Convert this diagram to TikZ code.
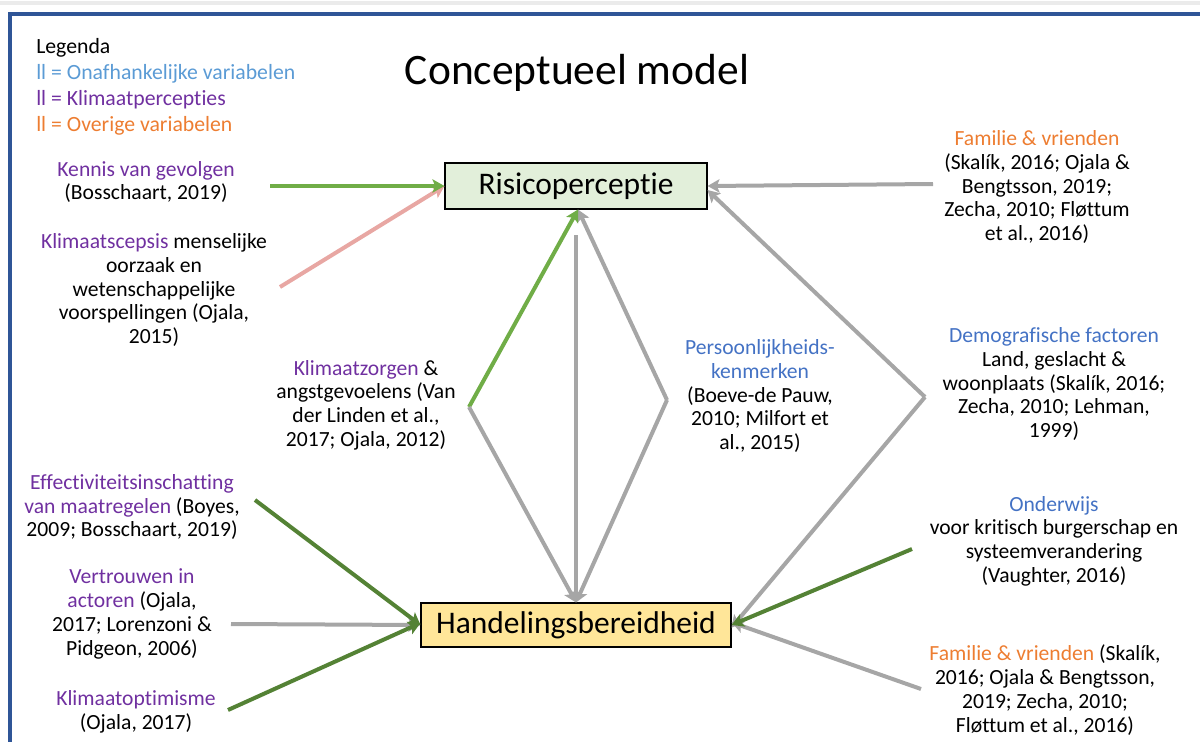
\documentclass[tikz,border=0pt]{standalone}
\usepackage{fontspec}
\setmainfont{Carlito}[Ligatures=NoCommon]
\usetikzlibrary{arrows.meta}

\definecolor{frameblue}{HTML}{2F5597}
\definecolor{legblue}{HTML}{5B9BD5}
\definecolor{varblue}{HTML}{4472C4}
\definecolor{klimpurple}{HTML}{7030A0}
\definecolor{restorange}{HTML}{ED7D31}
\definecolor{lightgreen}{HTML}{70AD47}
\definecolor{darkgreen}{HTML}{548235}
\definecolor{scepsispink}{HTML}{E8A7A3}
\definecolor{arrowgrey}{HTML}{A6A6A6}
\definecolor{risicofill}{HTML}{E2EFDA}
\definecolor{handelfill}{HTML}{FFE699}

\begin{document}
\begin{tikzpicture}[x=0.75pt, y=-0.75pt,
    txt/.style={align=center, font=\fontsize{16.2}{17.8}\selectfont},
    mainbox/.style={draw, line width=0.8pt, inner sep=0pt, font=\fontsize{23.6}{27}\selectfont},
    arr/.style={line width=3pt, -{Stealth[length=9pt, width=10pt, inset=2pt]}}]
    \useasboundingbox (0,0) rectangle (1200,742);

    % frame
    \draw[black!8, line width=3pt] (0,3) -- (1200,3);
    \draw[frameblue, line width=3pt] (10,742) -- (10,14) -- (1200,14);

    % title and legend
    \node (title) at (577,73) {\fontsize{32.6}{38}\selectfont Conceptueel model};
    \node[anchor=north west, inner sep=0pt, align=left, font=\fontsize{16.3}{19.5}\selectfont] (legend) at (36,38)
        {Legenda\\
         {\color{legblue}ll = Onafhankelijke variabelen}\\
         {\color{klimpurple}ll = Klimaatpercepties}\\
         {\color{restorange}ll = Overige variabelen}};

    % the two main boxes
    \node[mainbox, fill=risicofill, minimum width=196.5pt, minimum height=34.5pt] (risico) at (576,186) {Risicoperceptie};
    \node[mainbox, fill=handelfill, minimum width=232.5pt, minimum height=33pt] (handel) at (576,625) {Handelingsbereidheid};

    % left side
    \node[txt] (kennis) at (146,182) {{\color{klimpurple}Kennis van gevolgen}\\(Bosschaart, 2019)};
    \node[txt] (scepsis) at (154,290) {{\color{klimpurple}Klimaatscepsis} menselijke\\oorzaak en\\wetenschappelijke\\voorspellingen (Ojala,\\2015)};
    \node[txt] (zorgen) at (366,405) {{\color{klimpurple}Klimaatzorgen} \&\\angstgevoelens (Van\\der Linden et al.,\\2017; Ojala, 2012)};
    \node[txt] (effect) at (132,507) {{\color{klimpurple}Effectiviteitsinschatting}\\{\color{klimpurple}van maatregelen} (Boyes,\\2009; Bosschaart, 2019)};
    \node[txt] (vertrouwen) at (132,614) {{\color{klimpurple}Vertrouwen in}\\{\color{klimpurple}actoren} (Ojala,\\2017; Lorenzoni \&\\Pidgeon, 2006)};
    \node[txt] (optimisme) at (136,712) {{\color{klimpurple}Klimaatoptimisme}\\(Ojala, 2017)};

    % right side
    \node[txt] (persoon) at (760,396) {{\color{varblue}Persoonlijkheids-}\\{\color{varblue}kenmerken}\\(Boeve-de Pauw,\\2010; Milfort et\\al., 2015)};
    \node[txt] (familie1) at (1037,187) {{\color{restorange}Familie \& vrienden}\\(Skalík, 2016; Ojala \&\\Bengtsson, 2019;\\Zecha, 2010; Fløttum\\et al., 2016)};
    \node[txt] (demo) at (1054,384) {{\color{varblue}Demografische factoren}\\Land, geslacht \&\\woonplaats (Skalík, 2016;\\Zecha, 2010; Lehman,\\1999)};
    \node[txt] (onderwijs) at (1054,541) {{\color{varblue}Onderwijs}\\voor kritisch burgerschap en\\systeemverandering\\(Vaughter, 2016)};
    \node[txt] (familie2) at (1045,690) {{\color{restorange}Familie \& vrienden} (Skalík,\\2016; Ojala \& Bengtsson,\\2019; Zecha, 2010;\\Fløttum et al., 2016)};

    % arrow tails and bends
    \coordinate (kennistail) at (270,186);
    \coordinate (scepsistail) at (280,287);
    \coordinate (zorgtip) at (469,407);
    \coordinate (midtail) at (576,235);
    \coordinate (perstip) at (667,400);
    \coordinate (familie1tail) at (933,184);
    \coordinate (demotip) at (925,397);
    \coordinate (effecttail) at (255,500);
    \coordinate (vertrouwtail) at (231,624);
    \coordinate (optimtail) at (228,710);
    \coordinate (onderwijstail) at (912,549);
    \coordinate (familie2tail) at (921,689);

    % arrows into Risicoperceptie
    \draw[arr, scepsispink] (scepsistail) -- (risico.west);
    \draw[arr, lightgreen] (kennistail) -- (risico.west);
    \draw[arr, arrowgrey] (familie1tail) -- (risico.east);
    \draw[arr, arrowgrey] (demotip) -- ([yshift=-3pt]risico.east);
    \draw[arr, arrowgrey] (perstip) -- ([xshift=1.5pt]risico.south);
    \draw[arr, lightgreen] (zorgtip) -- ([xshift=1.5pt]risico.south);

    % arrows into Handelingsbereidheid
    \draw[arr, arrowgrey] (zorgtip) -- (handel.north);
    \draw[arr, arrowgrey] (perstip) -- (handel.north);
    \draw[arr, arrowgrey] (midtail) -- (handel.north);
    \draw[arr, arrowgrey] (vertrouwtail) -- (handel.west);
    \draw[arr, darkgreen] (effecttail) -- (handel.west);
    \draw[arr, darkgreen] (optimtail) -- ([yshift=1.5pt]handel.west);
    \draw[arr, arrowgrey] (demotip) -- ([yshift=-2pt]handel.east);
    \draw[arr, arrowgrey] (familie2tail) -- ([yshift=2pt]handel.east);
    \draw[arr, darkgreen] (onderwijstail) -- (handel.east);
\end{tikzpicture}
\end{document}
